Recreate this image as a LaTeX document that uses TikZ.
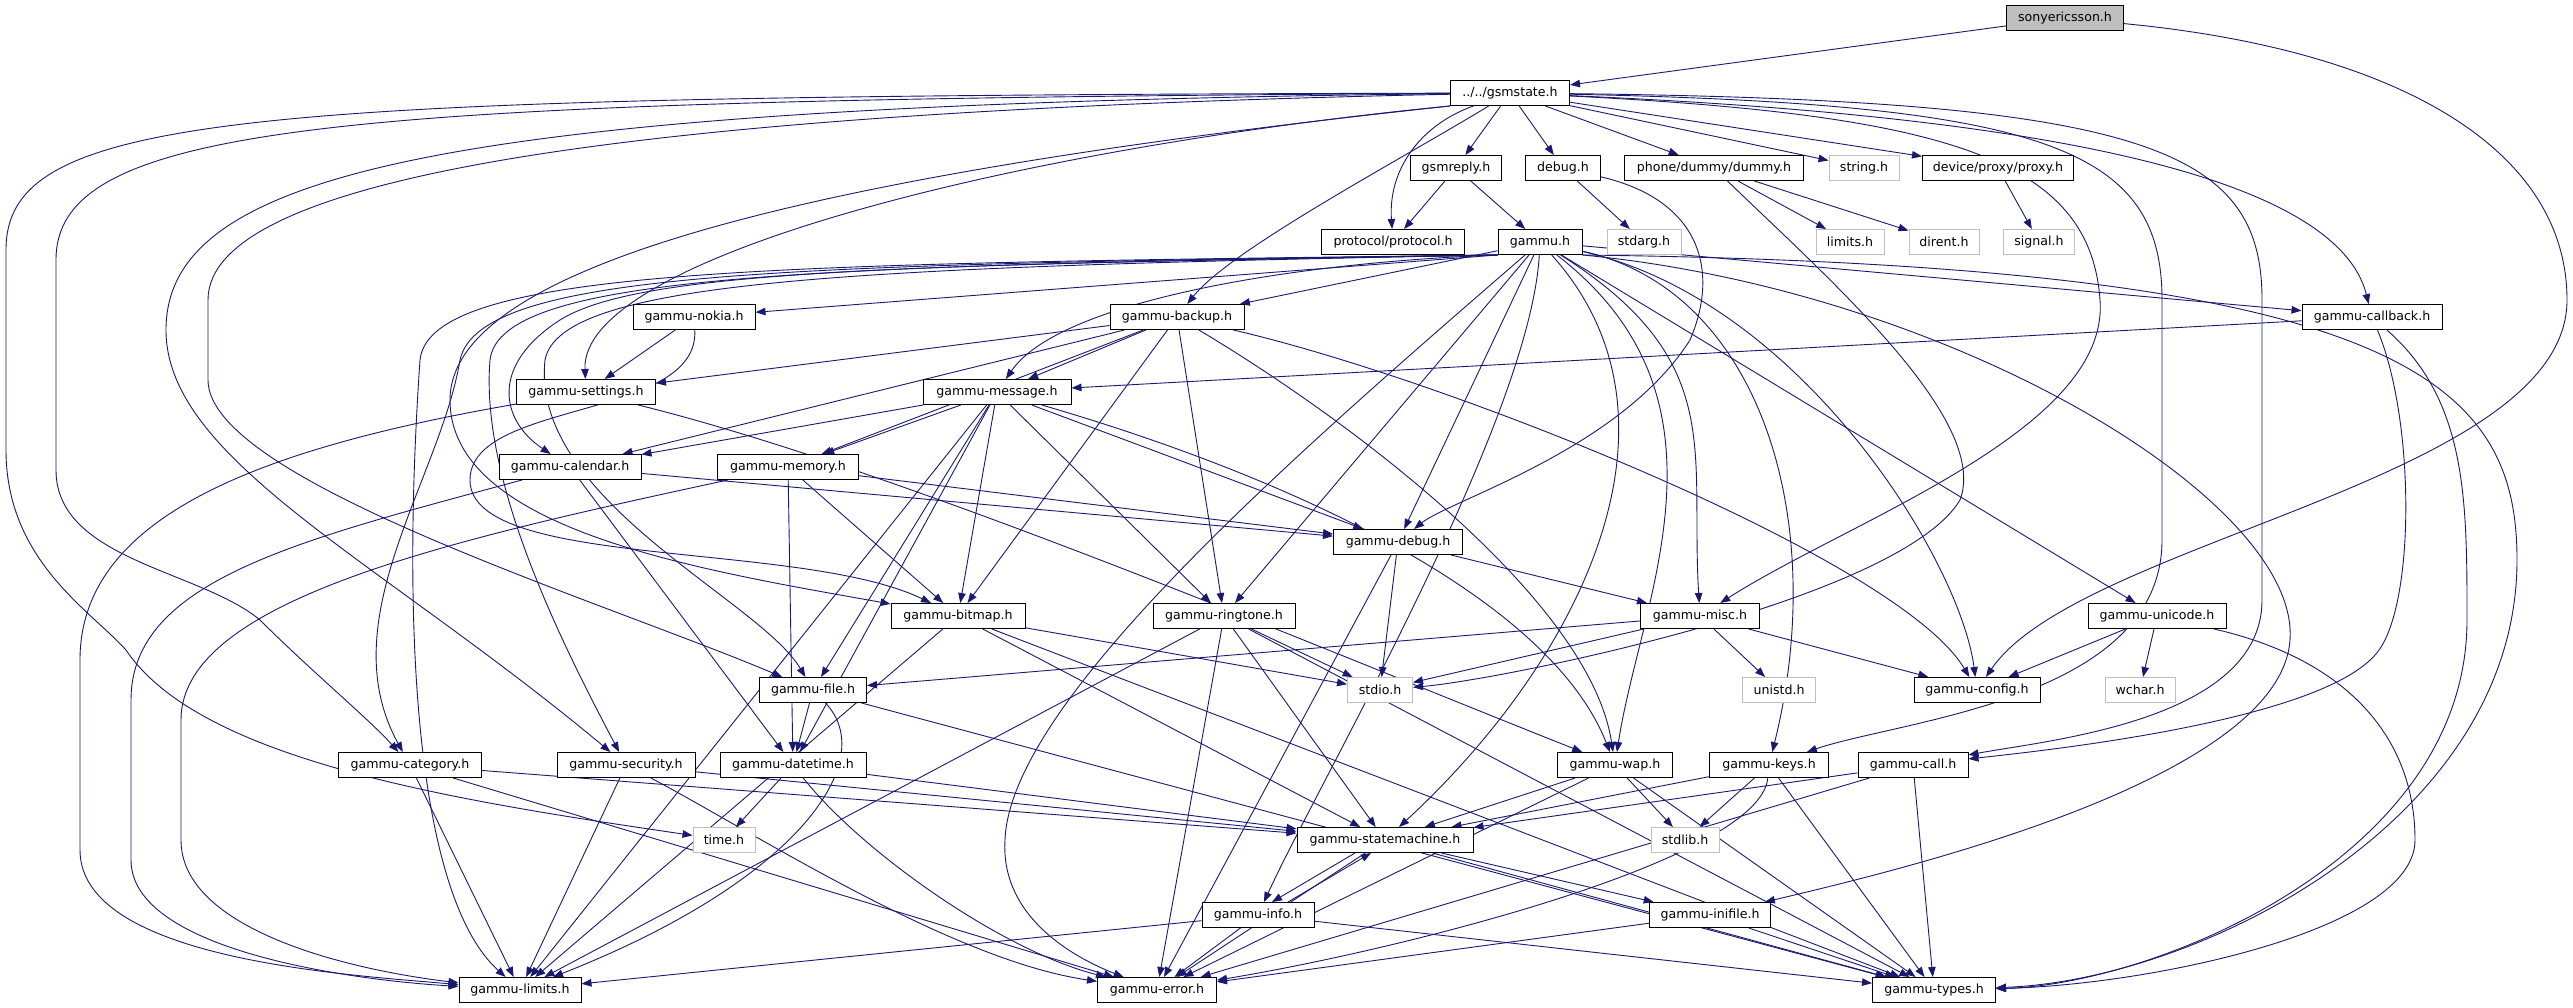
\documentclass[tikz,border=0pt]{standalone}
\usepackage{fontspec}
\setmainfont{DejaVu Sans}
\usetikzlibrary{arrows.meta}
\definecolor{edgec}{RGB}{25,25,112}
\definecolor{grayb}{RGB}{191,191,191}
\pgfdeclarelayer{bg}
\pgfsetlayers{bg,main}
\tikzset{
 nb/.style={draw=black, line width=1pt, fill=white, minimum height=25pt, inner sep=0pt, font=\fontsize{12.6}{15}\selectfont},
 sb/.style={nb, draw=grayb},
 e/.style={draw=edgec, line width=0.9pt, -{Triangle[length=10pt,width=7.5pt]}},
}
\begin{document}
\begin{tikzpicture}[x=1pt,y=-1pt]
\useasboundingbox (0,0) rectangle (2573,1008);
\node[nb,fill=grayb,minimum width=117pt] (sony) at (2065,18) {sonyericsson.h};
\node[nb,minimum width=119pt] (gsmstate) at (1510,93) {../../gsmstate.h};
\node[nb,minimum width=91pt] (gsmreply) at (1456,168) {gsmreply.h};
\node[nb,minimum width=75pt] (debug) at (1563,168) {debug.h};
\node[nb,minimum width=179pt] (dummy) at (1714,168) {phone/dummy/dummy.h};
\node[sb,minimum width=70pt] (string) at (1864,168) {string.h};
\node[nb,minimum width=151pt] (proxy) at (1998,168) {device/proxy/proxy.h};
\node[nb,minimum width=143pt] (protocol) at (1393,242) {protocol/protocol.h};
\node[nb,minimum width=84pt] (gammu) at (1540,242) {gammu.h};
\node[sb,minimum width=74pt] (stdarg) at (1644,242) {stdarg.h};
\node[sb,minimum width=68pt] (limits) at (1850,242) {limits.h};
\node[sb,minimum width=70pt] (dirent) at (1944,242) {dirent.h};
\node[sb,minimum width=71pt] (signal) at (2039,242) {signal.h};
\node[nb,minimum width=134pt] (backup) at (1177,317) {gammu-backup.h};
\node[nb,minimum width=122pt] (nokia) at (694,317) {gammu-nokia.h};
\node[nb,minimum width=140pt] (callback) at (2372,317) {gammu-callback.h};
\node[nb,minimum width=139pt] (settings) at (586,392) {gammu-settings.h};
\node[nb,minimum width=148pt] (message) at (997,392) {gammu-message.h};
\node[nb,minimum width=142pt] (calendar) at (570,467) {gammu-calendar.h};
\node[nb,minimum width=141pt] (memory) at (788,467) {gammu-memory.h};
\node[nb,minimum width=129pt] (debugh) at (1398,542) {gammu-debug.h};
\node[nb,minimum width=134pt] (bitmap) at (958,616) {gammu-bitmap.h};
\node[nb,minimum width=142pt] (ringtone) at (1224,616) {gammu-ringtone.h};
\node[nb,minimum width=119pt] (misc) at (1700,616) {gammu-misc.h};
\node[nb,minimum width=138pt] (unicode) at (2157,616) {gammu-unicode.h};
\node[nb,minimum width=107pt] (file) at (813,690) {gammu-file.h};
\node[sb,minimum width=65pt] (stdio) at (1380,690) {stdio.h};
\node[sb,minimum width=73pt] (unistd) at (1779,690) {unistd.h};
\node[nb,minimum width=126pt] (config) at (1977,690) {gammu-config.h};
\node[sb,minimum width=70pt] (wchar) at (2140,690) {wchar.h};
\node[nb,minimum width=143pt] (category) at (410,765) {gammu-category.h};
\node[nb,minimum width=138pt] (security) at (626,765) {gammu-security.h};
\node[nb,minimum width=146pt] (datetime) at (793,765) {gammu-datetime.h};
\node[nb,minimum width=115pt] (wap) at (1615,765) {gammu-wap.h};
\node[nb,minimum width=119pt] (keys) at (1769,765) {gammu-keys.h};
\node[nb,minimum width=110pt] (call) at (1913,765) {gammu-call.h};
\node[sb,minimum width=62pt] (time) at (724,840) {time.h};
\node[nb,minimum width=176pt] (statemachine) at (1385,840) {gammu-statemachine.h};
\node[sb,minimum width=68pt] (stdlib) at (1685,840) {stdlib.h};
\node[nb,minimum width=112pt] (info) at (1258,915) {gammu-info.h};
\node[nb,minimum width=121pt] (inifile) at (1710,915) {gammu-inifile.h};
\node[nb,minimum width=122pt] (limitsg) at (520,990) {gammu-limits.h};
\node[nb,minimum width=119pt] (error) at (1157,990) {gammu-error.h};
\node[nb,minimum width=123pt] (types) at (1934,990) {gammu-types.h};
\begin{pgfonlayer}{bg}
\draw[e] (sony) -- (gsmstate);
\draw[e] (sony) .. controls (2400,50) and (2567,150) .. (2567,300) .. controls (2567,480) and (2080,540) .. (config);
\foreach \t in {gsmreply,debug,dummy,string,proxy} \draw[e] (gsmstate) -- (\t);
\draw[e] (gsmstate) .. controls (1420,125) and (1388,170) .. (protocol);
\draw[e] (gsmstate) .. controls (1400,160) and (1230,250) .. (backup);
\draw[e] (gsmstate.south west) .. controls (1000,150) and (580,260) .. (settings);
\draw[e] (gsmstate.south west) .. controls (900,165) and (450,250) .. (450,400) .. controls (450,530) and (700,570) .. (bitmap);
\draw[e] (gsmstate) .. controls (250,96) and (6,110) .. (6,250) -- (6,450) .. controls (6,560) and (90,610) .. (126,650) .. controls (200,760) and (450,800) .. (time);
\draw[e] (gsmstate) .. controls (350,100) and (56,120) .. (56,260) -- (56,470) .. controls (56,560) and (200,570) .. (260,620) .. controls (310,670) and (370,720) .. (category);
\draw[e] (gsmstate) .. controls (450,105) and (166,170) .. (166,330) .. controls (166,460) and (380,560) .. (security);
\draw[e] (gsmstate) .. controls (600,112) and (208,180) .. (208,300) -- (208,380) .. controls (208,480) and (600,600) .. (file);
\draw[e] (gsmstate) .. controls (1900,110) and (2330,150) .. (callback);
\draw[e] (gsmstate) .. controls (1950,115) and (2090,160) .. (2100,300) .. controls (2110,430) and (1850,520) .. (misc);
\draw[e] (gsmstate) .. controls (2050,104) and (2162,150) .. (2162,300) -- (2162,540) .. controls (2162,700) and (1900,720) .. (keys);
\draw[e] (gsmstate) .. controls (2150,100) and (2262,150) .. (2262,300) -- (2262,600) .. controls (2262,720) and (2050,740) .. (call);
\draw[e] (gammu) -- (backup);
\draw[e] (gammu.south west) -- (nokia);
\draw[e] (gammu.south west) .. controls (1300,262) and (1060,300) .. (message);
\draw[e] (gammu.south west) .. controls (900,265) and (640,270) .. (560,320) .. controls (490,365) and (500,420) .. (calendar);
\draw[e] (gammu) -- (callback);
\draw[e] (gammu) -- (ringtone);
\draw[e] (gammu) -- (debugh);
\draw[e] (gammu) .. controls (1727,360) and (1690,450) .. (misc);
\draw[e] (gammu) .. controls (1800,300) and (1960,560) .. (config);
\draw[e] (gammu) -- (unicode);
\draw[e] (gammu) .. controls (1760,290) and (1830,520) .. (keys);
\draw[e] (gammu.south east) .. controls (1950,290) and (2300,500) .. (2290,640) .. controls (2280,780) and (1900,870) .. (inifile);
\draw[e] (gammu.south east) .. controls (2400,265) and (2517,380) .. (2517,560) .. controls (2517,820) and (2200,980) .. (types);
\draw[e] (gammu) .. controls (1745,400) and (1640,600) .. (wap);
\draw[e] (gammu) .. controls (1700,420) and (1580,660) .. (statemachine);
\draw[e] (gammu) .. controls (1300,450) and (1010,700) .. (1005,840) .. controls (1000,920) and (1080,960) .. (error);
\draw[e] (gammu) .. controls (1530,420) and (1320,780) .. (info);
\draw[e] (gammu.south west) .. controls (800,265) and (480,268) .. (460,360) .. controls (440,480) and (330,620) .. (category);
\draw[e] (gammu.south west) .. controls (820,266) and (500,272) .. (490,360) .. controls (480,480) and (560,640) .. (security);
\draw[e] (gammu.south west) .. controls (850,267) and (560,280) .. (545,360) .. controls (530,500) and (760,600) .. (file);
\draw[e] (gammu.south west) .. controls (780,264) and (430,266) .. (420,360) .. controls (400,650) and (420,900) .. (limitsg);
\draw[e] (gsmreply) -- (protocol);
\draw[e] (gsmreply) -- (gammu);
\draw[e] (debug) -- (stdarg);
\draw[e] (debug) .. controls (1700,200) and (1720,270) .. (1690,340) .. controls (1620,450) and (1450,500) .. (debugh);
\draw[e] (dummy) -- (limits);
\draw[e] (dummy) -- (dirent);
\draw[e] (dummy) .. controls (1830,280) and (1990,420) .. (1960,500) .. controls (1900,600) and (1500,680) .. (stdio);
\draw[e] (proxy) -- (signal);
\draw[e] (backup) -- (message);
\draw[e] (backup) -- (settings);
\draw[e] (backup) -- (calendar);
\draw[e] (backup) -- (memory);
\draw[e] (backup) -- (bitmap);
\draw[e] (backup) -- (ringtone);
\draw[e] (backup) .. controls (1350,420) and (1590,600) .. (wap);
\draw[e] (backup) .. controls (1450,380) and (1900,560) .. (config);
\draw[e] (nokia) -- (settings);
\draw[e] (nokia) .. controls (700,420) and (470,400) .. (470,480) .. controls (470,570) and (800,540) .. (bitmap);
\draw[e] (callback) -- (message);
\draw[e] (callback) .. controls (2415,420) and (2415,600) .. (2379,650) .. controls (2330,720) and (2050,750) .. (call);
\draw[e] (callback) .. controls (2467,400) and (2467,500) .. (2467,620) .. controls (2467,860) and (2150,985) .. (types);
\draw[e] (settings) .. controls (250,450) and (80,520) .. (80,660) -- (80,850) .. controls (80,960) and (350,975) .. (limitsg);
\draw[e] (settings) .. controls (900,470) and (1300,640) .. (wap);
\draw[e] (message) -- (calendar);
\draw[e] (message) -- (memory);
\draw[e] (message) -- (debugh);
\draw[e] (message) -- (bitmap);
\draw[e] (message) -- (ringtone);
\draw[e] (message) -- (datetime);
\draw[e] (message) -- (file);
\draw[e] (message) .. controls (1300,480) and (1550,600) .. (wap);
\draw[e] (message) -- (limitsg);
\draw[e] (calendar) -- (debugh);
\draw[e] (calendar) -- (datetime);
\draw[e] (calendar) .. controls (300,540) and (131,580) .. (131,700) -- (131,860) .. controls (131,950) and (350,980) .. (limitsg);
\draw[e] (memory) -- (debugh);
\draw[e] (memory) -- (datetime);
\draw[e] (memory) -- (bitmap);
\draw[e] (memory) .. controls (450,540) and (181,600) .. (181,720) -- (181,840) .. controls (181,930) and (350,970) .. (limitsg);
\draw[e] (debugh) -- (misc);
\draw[e] (debugh) -- (stdio);
\draw[e] (debugh) -- (error);
\draw[e] (bitmap) -- (limitsg);
\draw[e] (bitmap) -- (stdio);
\draw[e] (bitmap) -- (statemachine);
\draw[e] (bitmap) -- (types);
\draw[e] (ringtone) -- (stdio);
\draw[e] (ringtone) -- (statemachine);
\draw[e] (ringtone) -- (error);
\draw[e] (ringtone) -- (limitsg);
\draw[e] (ringtone) -- (types);
\draw[e] (misc) -- (file);
\draw[e] (misc) -- (stdio);
\draw[e] (misc) -- (unistd);
\draw[e] (misc) -- (config);
\draw[e] (unicode) -- (config);
\draw[e] (unicode) -- (wchar);
\draw[e] (unicode) .. controls (2350,660) and (2415,740) .. (2415,840) .. controls (2415,930) and (2150,985) .. (types);
\draw[e] (file) -- (datetime);
\draw[e] (file) .. controls (880,760) and (800,880) .. (limitsg);
\draw[e] (file) -- (types);
\draw[e] (category) -- (statemachine);
\draw[e] (category) -- (limitsg);
\draw[e] (category) -- (error);
\draw[e] (security) -- (statemachine);
\draw[e] (security) -- (limitsg);
\draw[e] (security) .. controls (750,830) and (950,960) .. (error);
\draw[e] (datetime) -- (time);
\draw[e] (datetime) -- (statemachine);
\draw[e] (datetime) .. controls (860,850) and (1000,950) .. (error);
\draw[e] (wap) -- (statemachine);
\draw[e] (wap) -- (stdlib);
\draw[e] (wap) -- (types);
\draw[e] (wap) -- (error);
\draw[e] (keys) -- (statemachine);
\draw[e] (keys) -- (stdlib);
\draw[e] (keys) -- (types);
\draw[e] (keys) .. controls (1760,860) and (1400,950) .. (error);
\draw[e] (call) -- (statemachine);
\draw[e] (call) -- (types);
\draw[e] (call) -- (error);
\draw[e] ([xshift=-30pt]statemachine.south) -- ([xshift=14pt]info.north);
\draw[e] ([xshift=30pt]info.north) -- ([xshift=-14pt]statemachine.south);
\draw[e] (statemachine) -- (inifile);
\draw[e] (statemachine) -- (types);
\draw[e] (statemachine) -- (error);
\draw[e] (info) -- (limitsg);
\draw[e] (info) -- (error);
\draw[e] (info) -- (types);
\draw[e] (inifile) -- (error);
\draw[e] (inifile) -- (types);
\end{pgfonlayer}
\end{tikzpicture}
\end{document}
